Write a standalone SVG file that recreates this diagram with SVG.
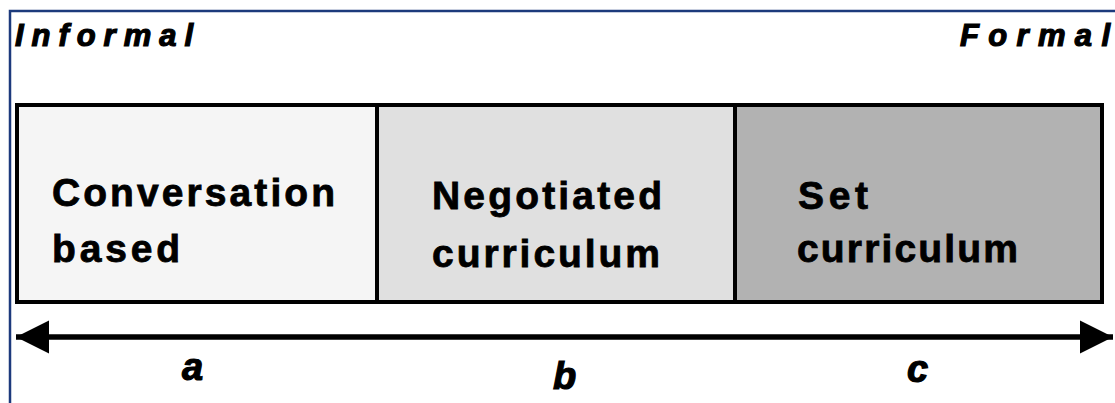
<svg xmlns="http://www.w3.org/2000/svg" width="1115" height="403" viewBox="0 0 1115 403">
<style>
.t{font-family:"Liberation Sans",Arial,sans-serif;font-weight:bold;fill:#000;stroke:#000}
.h{font-size:31px;font-style:italic;stroke-width:1.2}
.n{font-size:39px;stroke-width:0.8}
.l{font-size:38px;font-style:italic;stroke-width:1.2}
.box{stroke:#000;stroke-width:4}
</style>
<defs>
<marker id="ah" viewBox="0 0 10 10" refX="10" refY="5" markerWidth="6" markerHeight="6.5" orient="auto-start-reverse" markerUnits="strokeWidth">
<path d="M0,0 L10,5 L0,10 Z" fill="#000"/>
</marker>
</defs>
<rect width="1115" height="403" fill="#fff"/>
<path d="M10,403 V11 H1115" fill="none" stroke="#1c3a7c" stroke-width="2.5"/>
<text class="t h" x="15" y="46" textLength="178" lengthAdjust="spacing">Informal</text>
<text class="t h" x="960" y="46" textLength="150" lengthAdjust="spacing">Formal</text>
<g id="node-a">
<rect class="box" x="17" y="105" width="360" height="197" fill="#f5f5f5"/>
<text class="t n" x="52" y="206" textLength="283" lengthAdjust="spacing">Conversation</text>
<text class="t n" x="52" y="262" textLength="128" lengthAdjust="spacing">based</text>
</g>
<g id="node-b">
<rect class="box" x="377" y="105" width="358" height="197" fill="#e0e0e0"/>
<text class="t n" x="432" y="209" textLength="230" lengthAdjust="spacing">Negotiated</text>
<text class="t n" x="432" y="267" textLength="228" lengthAdjust="spacing">curriculum</text>
</g>
<g id="node-c">
<rect class="box" x="735" y="105" width="367" height="197" fill="#b2b2b2"/>
<text class="t n" x="798" y="209" textLength="70" lengthAdjust="spacing">Set</text>
<text class="t n" x="797" y="262" textLength="221" lengthAdjust="spacing">curriculum</text>
</g>
<g id="connectors">
<line x1="16" y1="337" x2="1113" y2="337" stroke="#000" stroke-width="5.5" marker-start="url(#ah)" marker-end="url(#ah)"/>
</g>
<text class="t l" x="182" y="380">a</text>
<text class="t l" x="553" y="389">b</text>
<text class="t l" x="907" y="382">c</text>
</svg>
